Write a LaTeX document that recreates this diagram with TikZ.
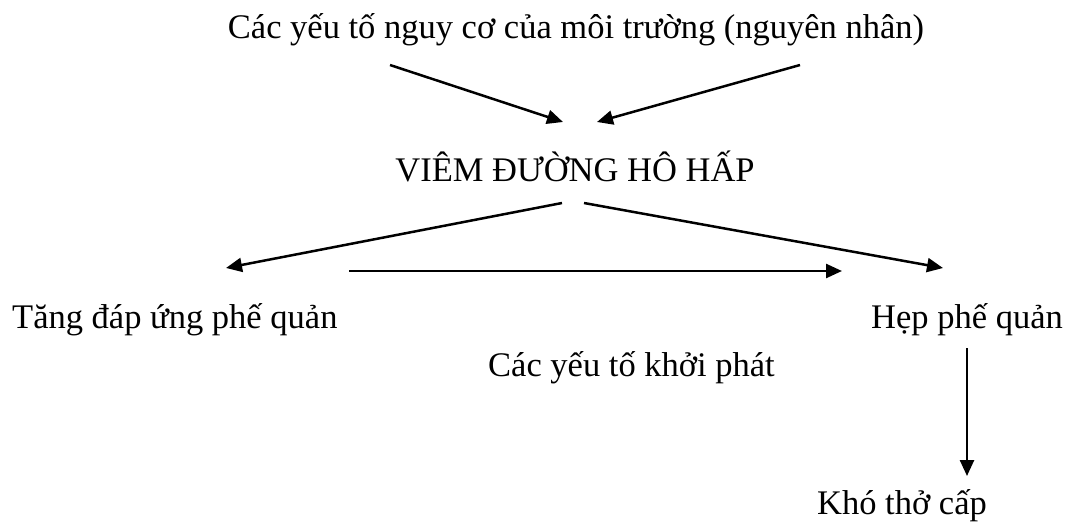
\documentclass[tikz,border=0pt]{standalone}
\usepackage{fontspec}
\setmainfont{Liberation Serif}
\usetikzlibrary{arrows.meta}
\begin{document}
\begin{tikzpicture}[x=1pt,y=-1pt,
  lbl/.style={inner sep=0pt,font=\fontsize{34.5}{40}\selectfont},
  arr/.style={line width=2.5pt,-{Triangle[length=16pt,width=14pt]}}]
\useasboundingbox (0,0) rectangle (1068,524);
\node[lbl,anchor=base] (cause) at (576,39) {Các yếu tố nguy cơ của môi trường (nguyên nhân)};
\node[lbl,anchor=base] (viem) at (575,182) {VIÊM ĐƯỜNG HÔ HẤP};
\node[lbl,anchor=base west] (tang) at (12,328) {Tăng đáp ứng phế quản};
\node[lbl,anchor=base east] (hep) at (1063,328) {Hẹp phế quản};
\node[lbl,anchor=base west] (khoi) at (488,376) {Các yếu tố khởi phát};
\node[lbl,anchor=base] (kho) at (902,514) {Khó thở cấp};
\coordinate (a1s) at (390,65);  \coordinate (a1e) at (563,122);
\coordinate (a2s) at (800,65);  \coordinate (a2e) at (597,122);
\coordinate (b1s) at (562,203); \coordinate (b1e) at (226,268);
\coordinate (b2s) at (584,203); \coordinate (b2e) at (943,268);
\coordinate (hs) at (349,271);  \coordinate (he) at (842,271);
\coordinate (vs) at (967,348);  \coordinate (ve) at (967,476);
\draw[arr] (a1s) -- (a1e);
\draw[arr] (a2s) -- (a2e);
\draw[arr] (b1s) -- (b1e);
\draw[arr] (b2s) -- (b2e);
\draw[arr] (hs) -- (he);
\draw[arr] (vs) -- (ve);
\end{tikzpicture}
\end{document}
